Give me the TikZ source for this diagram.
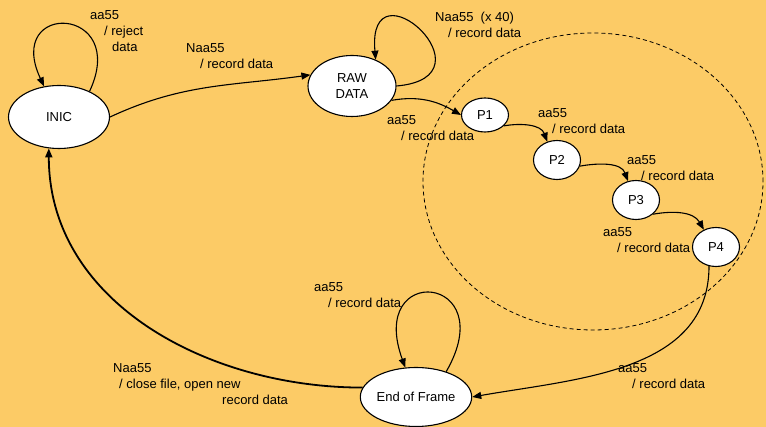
\documentclass[tikz,border=0pt]{standalone}
\usepackage{fontspec}
\setmainfont{Liberation Sans}
\usetikzlibrary{shapes.geometric,positioning,arrows.meta}
\definecolor{bgyellow}{RGB}{252,203,102}

\begin{document}
\begin{tikzpicture}[x=1pt,y=1pt,on grid,>={Triangle[length=9pt,width=7pt]},
	font=\fontsize{13}{16}\selectfont,
	bigstate/.style={ellipse,draw,fill=white,line width=1.1pt,inner sep=0pt,align=center},
	pstate/.style={ellipse,draw,fill=white,line width=1.1pt,inner sep=0pt,minimum width=47pt,minimum height=39pt},
	lbl/.style={align=left,inner sep=0pt,anchor=north west},
	trans/.style={line width=1.1pt}]
		\fill[bgyellow] (0,0) rectangle (766,427);
		\useasboundingbox (0,0) rectangle (766,427);
		% group of the P states
		\draw[dash pattern=on 4pt off 3pt,line width=0.8pt] (593,245.5) ellipse [x radius=170,y radius=148.5];
		\node[bigstate,minimum width=101pt,minimum height=63pt] (INIC) at (59,310) {INIC};
		\node[bigstate,minimum width=88pt,minimum height=61pt] (RAW) [above right=31pt and 293pt of INIC] {RAW\\DATA};
		\node[pstate,minimum height=34pt] (P1) [below right=29pt and 133pt of RAW] {P1};
		\node[pstate] (P2) [below right=45pt and 72pt of P1] {P2};
		\node[pstate] (P3) [below right=40pt and 79pt of P2] {P3};
		\node[pstate] (P4) [below right=47pt and 80pt of P3] {P4};
		\node[bigstate,minimum width=103pt,minimum height=59pt] (EoF) [below right=280pt and 357pt of INIC] {End of Frame};
		\path[->,trans]
		(INIC.40) edge [out=65,in=115,looseness=5.3] (INIC.116)
		(INIC.east) edge [out=25,in=188] (RAW.165)
		(RAW.east) edge [out=5,in=95,looseness=7.8] (RAW.48)
		(RAW.-20) edge [out=10,in=150] (P1.west)
		(P1.-30) edge [out=10,in=110] (P2.118)
		(P2.-15) edge [out=10,in=110] (P3.113)
		(P3.-40) edge [out=10,in=120] (P4.125)
		(P4.-110) edge [out=-90,in=10] (EoF.east)
		(EoF.40) edge [out=60,in=110,looseness=7] (EoF.110);
		\draw[->,line width=1.8pt] (EoF.170) to [out=180,in=-90] (INIC.-108);
		% labels
		\node[lbl] (lInic) at (90,417) {aa55\\\hspace*{14pt}/ reject\\\hspace*{22pt}data};
		\node[lbl] (lStart) at (186,384) {Naa55\\\hspace*{14pt}/ record data};
		\node[lbl] (lRaw) at (435,415) {Naa55\ \ (x 40)\\\hspace*{13pt}/ record data};
		\node[lbl] (lP1) at (387,312) {aa55\\\hspace*{14pt}/ record data};
		\node[lbl] (lP2) at (538,319) {aa55\\\hspace*{14pt}/ record data};
		\node[lbl] (lP3) at (627,272) {aa55\\\hspace*{14pt}/ record data};
		\node[lbl] (lP4) at (603,200) {aa55\\\hspace*{14pt}/ record data};
		\node[lbl] (lEnd) at (618,64) {aa55\\\hspace*{14pt}/ record data};
		\node[lbl] (lEoF) at (314,145) {aa55\\\hspace*{14pt}/ record data};
		\node[lbl] (lBack) at (113,64) {Naa55\\\hspace*{6pt}/ close file, open new\\\hspace*{109pt}record data};
\end{tikzpicture}
\end{document}
